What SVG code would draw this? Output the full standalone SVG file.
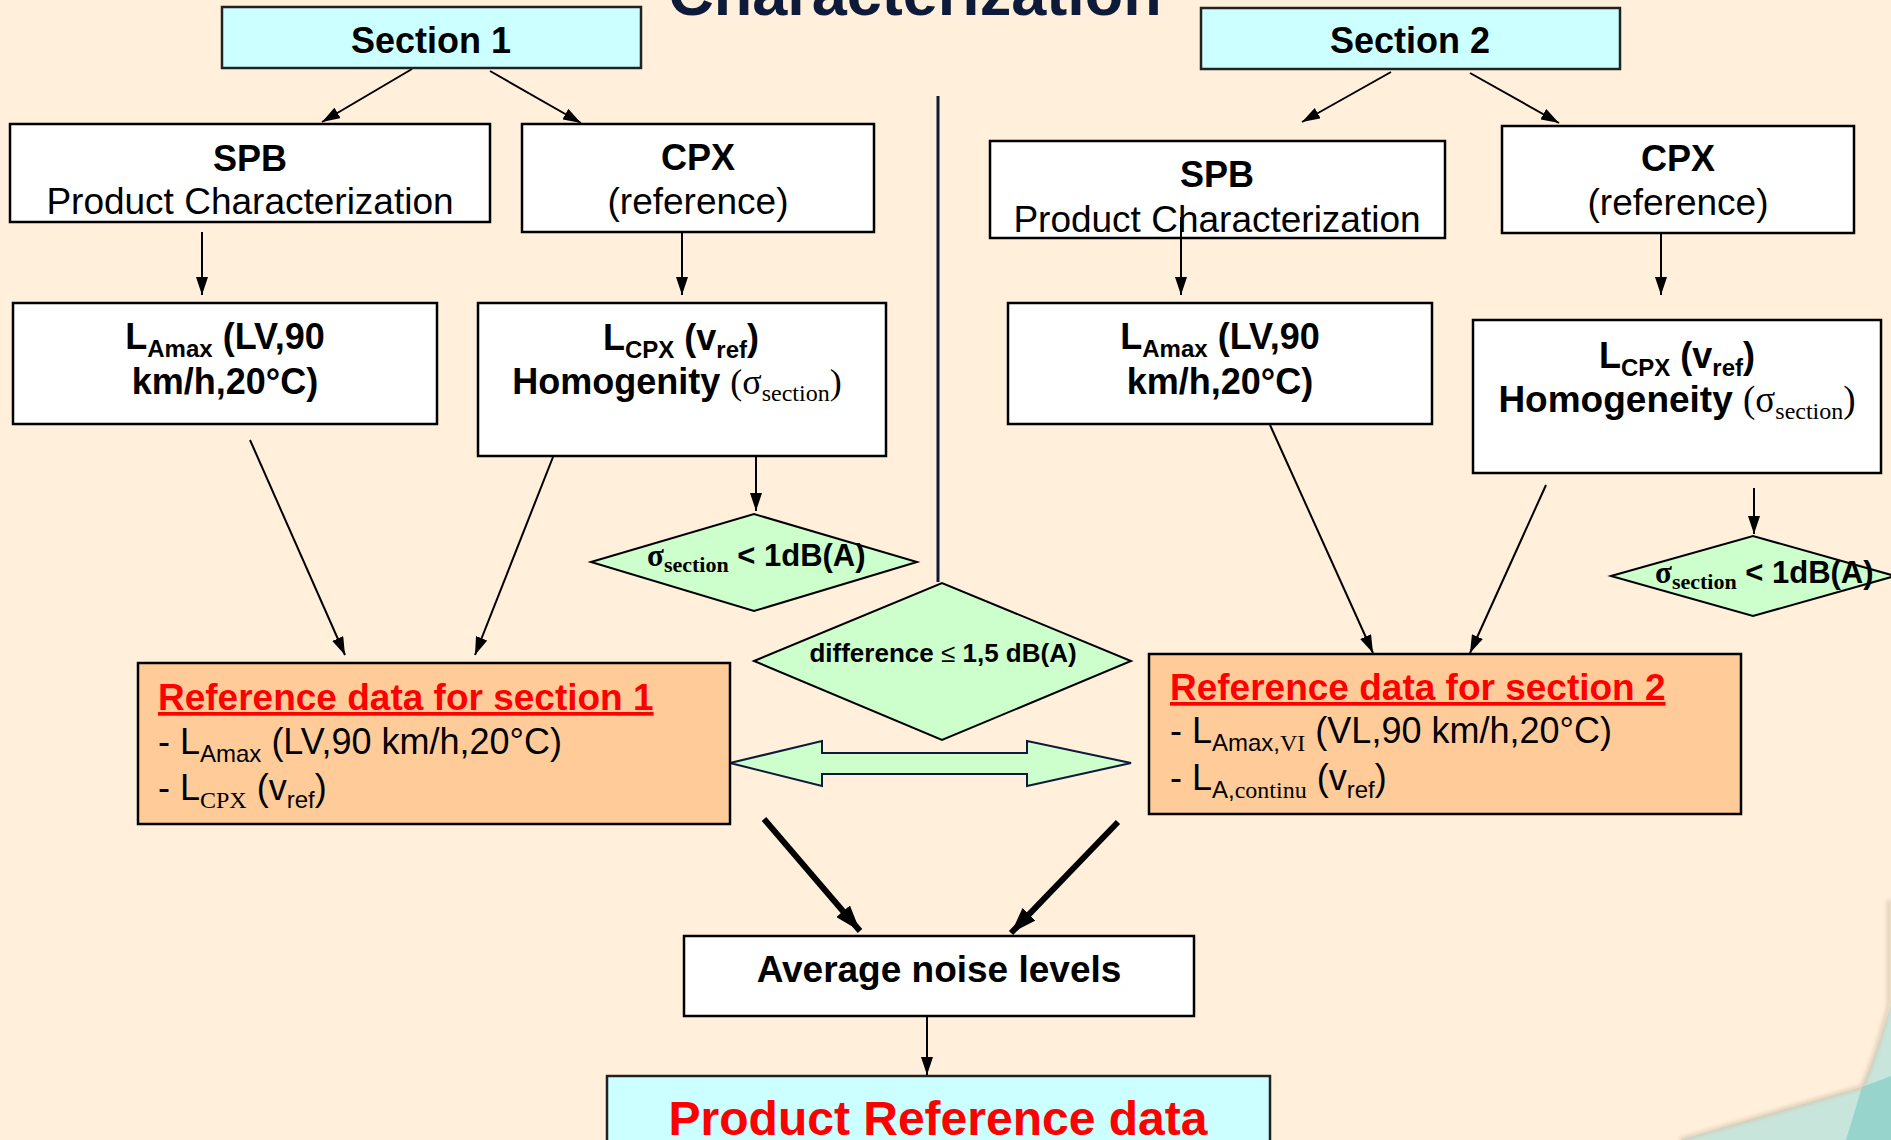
<svg xmlns="http://www.w3.org/2000/svg" width="1891" height="1140" viewBox="0 0 1891 1140">
<defs>
<style>
.bg{fill:#FFEFDB}
.box{fill:#FFFFFF;stroke:#000;stroke-width:2.5}
.sec{fill:#CCFFFF;stroke:#222;stroke-width:2.5}
.ref{fill:#FFCC99;stroke:#000;stroke-width:2.5}
.dia{fill:#CCFFCC;stroke:#000;stroke-width:2}
.conn{stroke:#000;stroke-width:2;fill:none}
.thick{stroke:#000;stroke-width:6;fill:none}
text{font-family:"Liberation Sans",Arial,sans-serif;fill:#000}
.b{font-weight:bold}
.s{font-family:"Liberation Serif","Times New Roman",serif}
.red{fill:#FF0000}
</style>
<marker id="ah" markerUnits="userSpaceOnUse" markerWidth="18" markerHeight="12" refX="18" refY="6" orient="auto" viewBox="0 0 18 12">
<path d="M0,0 L18,6 L0,12 z" fill="#000"/>
</marker>
<marker id="ahb" markerUnits="userSpaceOnUse" markerWidth="26" markerHeight="18" refX="26" refY="9" orient="auto" viewBox="0 0 26 18">
<path d="M0,0 L26,9 L0,18 z" fill="#000"/>
</marker>
<filter id="blur" x="-10%" y="-10%" width="120%" height="120%"><feGaussianBlur stdDeviation="2"/></filter>
</defs>
<rect class="bg" x="0" y="0" width="1891" height="1140"/>

<!-- bottom-right decoration -->
<g id="decor">
<path d="M1891,1005 C1880,1040 1870,1070 1862,1087 C1800,1105 1740,1122 1680,1140 L1891,1140 Z" fill="#C8E5DC"/>
<path d="M1862,1087 L1891,1076 L1891,1140 L1846,1140 Z" fill="#97D4CC"/>
<path d="M1889,900 L1889,1005 C1880,1040 1870,1070 1862,1087 C1800,1105 1740,1122 1680,1140" fill="none" stroke="#D4C3A8" stroke-width="3" filter="url(#blur)"/>
<text x="1843" y="1158" font-size="24" fill="#000">10</text>
</g>

<!-- title -->
<text x="915" y="15" font-size="63" class="b" text-anchor="middle" style="fill:#0D1A3A">Characterization</text>

<!-- connectors -->
<g id="connectors">
<line x1="938" y1="96" x2="938" y2="582" stroke="#0D1A3A" stroke-width="3"/>
<line class="conn" x1="412" y1="69" x2="322" y2="122" marker-end="url(#ah)"/>
<line class="conn" x1="490" y1="71" x2="581" y2="123" marker-end="url(#ah)"/>
<line class="conn" x1="202" y1="232" x2="202" y2="295" marker-end="url(#ah)"/>
<line class="conn" x1="682" y1="232" x2="682" y2="295" marker-end="url(#ah)"/>
<line class="conn" x1="250" y1="440" x2="345" y2="655" marker-end="url(#ah)"/>
<line class="conn" x1="553" y1="457" x2="475" y2="655" marker-end="url(#ah)"/>
<line class="conn" x1="756" y1="457" x2="756" y2="511" marker-end="url(#ah)"/>
<line class="conn" x1="1391" y1="72" x2="1302" y2="122" marker-end="url(#ah)"/>
<line class="conn" x1="1470" y1="73" x2="1559" y2="123" marker-end="url(#ah)"/>
<line class="conn" x1="1661" y1="233" x2="1661" y2="295" marker-end="url(#ah)"/>
<line class="conn" x1="1270" y1="425" x2="1373" y2="653" marker-end="url(#ah)"/>
<line class="conn" x1="1546" y1="485" x2="1470" y2="653" marker-end="url(#ah)"/>
<line class="conn" x1="1754" y1="488" x2="1754" y2="534" marker-end="url(#ah)"/>
<line class="thick" x1="764" y1="819" x2="860" y2="931" marker-end="url(#ahb)"/>
<line class="thick" x1="1118" y1="822" x2="1011" y2="933" marker-end="url(#ahb)"/>
<line class="conn" x1="927" y1="1016" x2="927" y2="1075" marker-end="url(#ah)"/>
<polygon points="730,763 822,741 822,753 1027,753 1027,741 1131,763 1027,786 1027,774 822,774 822,786" fill="#CCFFCC" stroke="#0D1A3A" stroke-width="2"/>
</g>

<!-- Section 1 -->
<g id="section1">
<rect class="sec" x="222" y="7" width="419" height="61"/>
<text x="431" y="53" font-size="36" class="b" text-anchor="middle">Section 1</text>
</g>
<g id="section2">
<rect class="sec" x="1201" y="8" width="419" height="61"/>
<text x="1410" y="53" font-size="36" class="b" text-anchor="middle">Section 2</text>
</g>

<g id="spb1">
<rect class="box" x="10" y="124" width="480" height="98"/>
<text x="250" y="171" font-size="36" class="b" text-anchor="middle">SPB</text>
<text x="250" y="214" font-size="37" text-anchor="middle">Product Characterization</text>
</g>
<g id="cpx1">
<rect class="box" x="522" y="124" width="352" height="108"/>
<text x="698" y="170" font-size="36" class="b" text-anchor="middle">CPX</text>
<text x="698" y="214" font-size="37" text-anchor="middle">(reference)</text>
</g>
<g id="lamax1">
<rect class="box" x="13" y="303" width="424" height="121"/>
<text x="225" y="349" font-size="36" class="b" text-anchor="middle">L<tspan font-size="24" dy="8">Amax</tspan><tspan dy="-8"> (LV,90</tspan></text>
<text x="225" y="394" font-size="36" class="b" text-anchor="middle">km/h,20°C)</text>
</g>
<g id="lcpx1">
<rect class="box" x="478" y="303" width="408" height="153"/>
<text x="681" y="350" font-size="36" class="b" text-anchor="middle">L<tspan font-size="24" dy="8">CPX</tspan><tspan dy="-8"> (v</tspan><tspan font-size="24" dy="8">ref</tspan><tspan dy="-8">)</tspan></text>
<text x="677" y="394" font-size="36" text-anchor="middle"><tspan class="b">Homogenity </tspan><tspan class="s">(σ</tspan><tspan class="s" font-size="24" dy="7">section</tspan><tspan class="s" dy="-7">)</tspan></text>
</g>
<g id="sigma1">
<polygon class="dia" points="591,562 754,514 917,562 754,611"/>
<text x="647" y="566" font-size="31" class="b"><tspan class="s">σ</tspan><tspan class="s" font-size="22" dy="6">section</tspan><tspan dy="-6"> &lt; 1dB(A)</tspan></text>
</g>
<g id="difference">
<polygon class="dia" points="754,661 942,583 1131,661 942,740"/>
<text x="943" y="662" font-size="26" class="b" text-anchor="middle">difference <tspan font-weight="normal">≤</tspan> 1,5 dB(A)</text>
</g>
<g id="ref1">
<rect class="ref" x="138" y="663" width="592" height="161"/>
<text x="158" y="710" font-size="37" class="b red" text-decoration="underline">Reference data for section 1</text>
<text x="158" y="754" font-size="36">- L<tspan font-size="24" dy="8">Amax</tspan><tspan dy="-8"> (LV,90 km/h,20°C)</tspan></text>
<text x="158" y="800" font-size="36">- L<tspan class="s" font-size="24" dy="8">CPX</tspan><tspan dy="-8"> (v</tspan><tspan font-size="24" dy="8">ref</tspan><tspan dy="-8">)</tspan></text>
</g>

<g id="spb2">
<rect class="box" x="990" y="141" width="455" height="97"/>
<text x="1217" y="187" font-size="36" class="b" text-anchor="middle">SPB</text>
<text x="1217" y="232" font-size="37" text-anchor="middle">Product Characterization</text>
</g>
<line class="conn" x1="1181" y1="217" x2="1181" y2="295" marker-end="url(#ah)"/>
<g id="cpx2">
<rect class="box" x="1502" y="126" width="352" height="107"/>
<text x="1678" y="171" font-size="36" class="b" text-anchor="middle">CPX</text>
<text x="1678" y="215" font-size="37" text-anchor="middle">(reference)</text>
</g>
<g id="lamax2">
<rect class="box" x="1008" y="303" width="424" height="121"/>
<text x="1220" y="349" font-size="36" class="b" text-anchor="middle">L<tspan font-size="24" dy="8">Amax</tspan><tspan dy="-8"> (LV,90</tspan></text>
<text x="1220" y="394" font-size="36" class="b" text-anchor="middle">km/h,20°C)</text>
</g>
<g id="lcpx2">
<rect class="box" x="1473" y="320" width="408" height="153"/>
<text x="1677" y="368" font-size="36" class="b" text-anchor="middle">L<tspan font-size="24" dy="8">CPX</tspan><tspan dy="-8"> (v</tspan><tspan font-size="24" dy="8">ref</tspan><tspan dy="-8">)</tspan></text>
<text x="1677" y="412" font-size="37" text-anchor="middle"><tspan class="b">Homogeneity </tspan><tspan class="s">(σ</tspan><tspan class="s" font-size="24" dy="7">section</tspan><tspan class="s" dy="-7">)</tspan></text>
</g>
<g id="sigma2">
<polygon class="dia" points="1611,576 1753,536 1895,576 1753,616"/>
<text x="1655" y="583" font-size="31" class="b"><tspan class="s">σ</tspan><tspan class="s" font-size="22" dy="6">section</tspan><tspan dy="-6"> &lt; 1dB(A)</tspan></text>
</g>
<g id="ref2">
<rect class="ref" x="1149" y="654" width="592" height="160"/>
<text x="1170" y="700" font-size="37" class="b red" text-decoration="underline">Reference data for section 2</text>
<text x="1170" y="743" font-size="36">- L<tspan font-size="24" dy="8">Amax,</tspan><tspan class="s" font-size="24">VI</tspan><tspan dy="-8"> (VL,90 km/h,20°C)</tspan></text>
<text x="1170" y="790" font-size="36">- L<tspan font-size="24" dy="8">A,</tspan><tspan class="s" font-size="24">continu</tspan><tspan dy="-8"> (v</tspan><tspan font-size="24" dy="8">ref</tspan><tspan dy="-8">)</tspan></text>
</g>

<g id="average">
<rect class="box" x="684" y="936" width="510" height="80"/>
<text x="939" y="982" font-size="37" class="b" text-anchor="middle">Average noise levels</text>
</g>
<g id="product">
<rect class="sec" x="607" y="1076" width="663" height="100"/>
<text x="938" y="1135" font-size="48" class="b red" text-anchor="middle">Product Reference data</text>
</g>
</svg>
